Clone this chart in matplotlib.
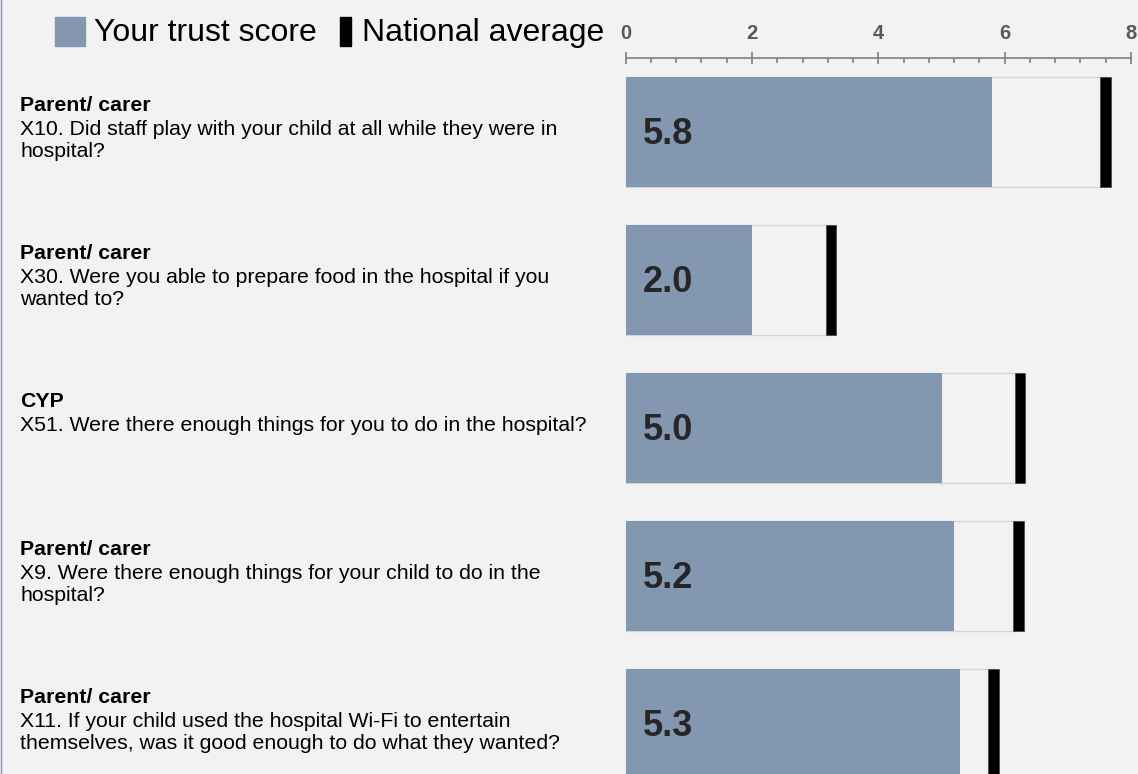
import matplotlib.pyplot as plt
import matplotlib.transforms as mtransforms
from matplotlib.patches import Rectangle
from matplotlib.lines import Line2D
from matplotlib.ticker import MultipleLocator

plt.rcParams["font.family"] = ["Liberation Sans", "DejaVu Sans"]

groups = ["Parent/ carer", "Parent/ carer", "CYP", "Parent/ carer", "Parent/ carer"]
questions = [
    "X10. Did staff play with your child at all while they were in\nhospital?",
    "X30. Were you able to prepare food in the hospital if you\nwanted to?",
    "X51. Were there enough things for you to do in the hospital?",
    "X9. Were there enough things for your child to do in the\nhospital?",
    "X11. If your child used the hospital Wi-Fi to entertain\nthemselves, was it good enough to do what they wanted?",
]
trust_score = [5.8, 2.0, 5.0, 5.2, 5.3]
national_avg = [7.6, 3.25, 6.24, 6.22, 5.82]

BG = "#f2f2f2"
BLUE = "#8497b0"

W, H = 1138, 774
fig = plt.figure(figsize=(W / 100, H / 100), dpi=100, facecolor=BG)
# x axis: 0 at px 625.7, 8 at px 1131 ; axis line at px 58 from top
ax = fig.add_axes([625.7 / W, 0, 505.3 / W, 1 - 58 / H])
ax.set_facecolor(BG)

y = list(range(len(trust_score)))
bar_h = 110 / 148
marker_w = 0.166

ax.barh(y, national_avg, height=bar_h, color=BG, edgecolor="#d4d4d4", linewidth=1.0)
ax.barh(y, trust_score, height=bar_h, color=BLUE, edgecolor="none")
ax.barh(y, [marker_w] * len(y), left=[v - marker_w / 2 for v in national_avg],
        height=bar_h, color="black", edgecolor="#404040", linewidth=0.5)

for i, v in enumerate(trust_score):
    ax.annotate(f"{v:.1f}", xy=(0, i), xytext=(17, -3), textcoords="offset pixels",
                ha="left", va="center", fontsize=26, fontweight="bold", color="#262626")

ax.set_xlim(0, 8)
ax.set_ylim(4.338, -0.5)

ax.xaxis.set_ticks_position("top")
ax.xaxis.set_label_position("top")
ax.xaxis.set_major_locator(MultipleLocator(2))
ax.xaxis.set_minor_locator(MultipleLocator(0.4))
ax.tick_params(axis="x", which="major", direction="inout", length=8, width=1.2,
               color="#808080", pad=7, labelsize=14.5, labelcolor="#595959")
ax.tick_params(axis="x", which="minor", direction="in", length=3.6, width=1.2,
               color="#808080")
for lab in ax.get_xticklabels():
    lab.set_fontweight("bold")
ax.set_yticks([])
for s in ["left", "right", "bottom"]:
    ax.spines[s].set_visible(False)
ax.spines["top"].set_color("#808080")
ax.spines["top"].set_linewidth(1.2)

# question labels on the left
trans = mtransforms.blended_transform_factory(fig.transFigure, ax.transData)
for i, (g, q) in enumerate(zip(groups, questions)):
    ax.annotate(g, xy=(20 / W, i), xycoords=trans, xytext=(0, 21),
                textcoords="offset pixels", ha="left", va="baseline",
                fontsize=15.3, fontweight="bold", color="black", annotation_clip=False)
    for k, line in enumerate(q.split("\n")):
        ax.annotate(line, xy=(20 / W, i), xycoords=trans, xytext=(0, -3 - 22 * k),
                    textcoords="offset pixels", ha="left", va="baseline",
                    fontsize=15.3, color="black", annotation_clip=False)

# legend
fig.add_artist(Rectangle((55 / W, 1 - 46 / H), 30 / W, 29 / H,
                         transform=fig.transFigure, color=BLUE))
fig.text(94 / W, 1 - 33 / H, "Your trust score", ha="left", va="center",
         fontsize=23, color="black")
fig.add_artist(Rectangle((340 / W, 1 - 46 / H), 11 / W, 29 / H,
                         transform=fig.transFigure, color="black"))
fig.text(362 / W, 1 - 33 / H, "National average", ha="left", va="center",
         fontsize=23, color="black")

fig.add_artist(Line2D([0.5 / W, 0.5 / W], [0, 1], transform=fig.transFigure,
                      color=BLUE, linewidth=1))

fig.savefig("out.png", dpi=100, facecolor=BG)
